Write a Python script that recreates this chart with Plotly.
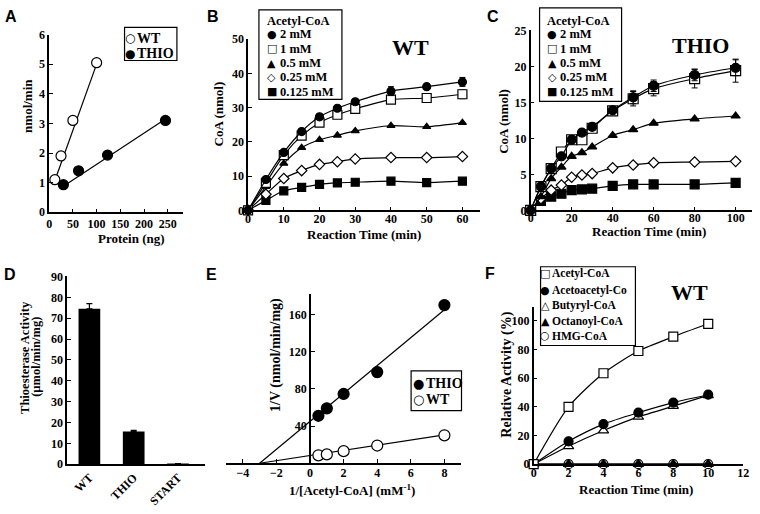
import plotly.graph_objects as go

W, H = 760, 514
SERIF = "Liberation Serif"
SANS = "Liberation Sans"
GLYPH = "DejaVu Sans"

# ---------------- Panel A ----------------
a_protein_wt = [12, 25, 50, 100]
a_rate_wt = [1.1, 1.9, 3.1, 5.05]
a_protein_thio = [30, 62, 123, 245]
a_rate_thio = [0.93, 1.4, 1.93, 3.1]
a_fit_wt_x = [10, 100]
a_fit_wt_y = [0.98, 5.0]
a_fit_thio_x = [30, 245]
a_fit_thio_y = [0.88, 3.15]

# ---------------- Panel B (WT) ----------------
b_time = [0, 5, 10, 15, 20, 25, 30, 40, 50, 60]
b_2mM = [0, 9.0, 16.9, 23.0, 27.3, 29.8, 31.7, 34.8, 36.1, 37.5]
b_2mM_err = [0, 0, 0, 0, 0, 0, 0, 1.3, 0.8, 1.3]
b_1mM = [0, 8.0, 16.1, 21.8, 25.6, 27.9, 29.6, 32.3, 32.8, 33.9]
b_1mM_err = [0, 0, 0, 0, 0, 0, 0, 0, 0, 1.3]
b_05mM = [0, 6.9, 13.7, 18.3, 20.6, 21.9, 23.2, 24.7, 24.4, 25.6]
b_025mM = [0, 4.7, 9.3, 11.6, 13.4, 14.2, 15.0, 15.4, 15.4, 15.7]
b_0125mM = [0, 2.9, 5.7, 6.7, 7.6, 8.0, 8.2, 8.5, 8.1, 8.5]

# ---------------- Panel C (THIO) ----------------
c_time = [0, 5, 10, 15, 20, 25, 30, 40, 50, 60, 80, 100]
c_2mM = [0, 3.3, 5.8, 7.5, 9.8, 10.8, 11.6, 13.9, 15.7, 17.3, 18.8, 19.8]
c_2mM_err = [0, 0, 0, 0, 0.6, 0.4, 0.4, 0.5, 0.9, 0.8, 0.8, 1.1]
c_1mM = [0, 3.3, 5.8, 8.1, 9.8, 9.8, 11.4, 13.8, 15.5, 16.9, 18.3, 19.4]
c_1mM_err = [0, 0, 0, 0, 0, 0, 0, 0.5, 1.0, 1.0, 1.3, 1.6]
c_05mM = [0, 1.9, 4.4, 6.0, 7.5, 8.0, 8.8, 10.4, 11.2, 12.1, 12.7, 13.1]
c_025mM = [0, 1.6, 2.8, 3.5, 4.6, 4.9, 5.1, 5.9, 6.3, 6.6, 6.7, 6.8]
c_025mM_err = [0, 0, 0, 0, 0, 0, 0, 0, 0, 0.3, 0, 0.3]
c_0125mM = [0, 1.3, 1.9, 2.3, 2.8, 2.9, 3.0, 3.4, 3.6, 3.6, 3.6, 3.8]

# ---------------- Panel D ----------------
d_enzyme = ["WT", "THIO", "START"]
d_activity = [74.5, 15.7, 0.3]
d_err = [2.5, 0.5, 0]

# ---------------- Panel E ----------------
e_inv_s = [0.5, 1, 2, 4, 8]
e_inv_v_thio = [51, 59, 74.5, 98, 170]
e_inv_v_thio_err = [0, 0, 0, 5, 3]
e_inv_v_wt = [8.5, 9.5, 13, 19, 30]
e_fit_x = [-3, 8]
e_fit_thio_y = [0, 165]
e_fit_wt_y = [0, 30.5]

# ---------------- Panel F ----------------
f_time = [0, 2, 4, 6, 8, 10]
f_acetyl = [0, 40, 63.5, 79, 89, 98]
f_acetoacetyl = [0, 16, 28, 36, 43, 48.5]
f_butyryl = [0, 12.5, 23.5, 33, 40.5, 48]
f_octanoyl = [0, 0, 0, 0, 0, 0]
f_hmg = [0, 0, 0, 0, 0, 0]


def dx(a, b):
    return [a / W, b / W]


def dy(top, bottom):
    return [1 - bottom / H, 1 - top / H]


def px(x):
    return x / W


def py(y):
    return 1 - y / H


TICKFONT = dict(family=SERIF, size=12, color="black", weight="bold")


def axis(domain, rng, **kw):
    d = dict(domain=domain, range=rng, showline=True, linecolor="black", linewidth=1.5,
             ticks="inside", ticklen=4, tickwidth=1.2, tickcolor="black",
             showgrid=False, zeroline=False, tickfont=TICKFONT, fixedrange=True)
    d.update(kw)
    return d


fig = go.Figure()
LW = 1.2


def sc(x, y, xa, ya, symbol, size, filled=True, mode="lines+markers", err=None,
       shape="spline", lw=LW):
    marker = dict(symbol=symbol, size=size, color="black" if filled else "white",
                  line=dict(color="black", width=1.2))
    line = dict(color="black", width=lw, shape=shape)
    if shape == "spline":
        line["smoothing"] = 0.7
    tr = go.Scatter(x=x, y=y, xaxis=xa, yaxis=ya, mode=mode, marker=marker,
                    line=line, showlegend=False, cliponaxis=False)
    if err is not None:
        tr.error_y = dict(type="data", array=err, color="black", thickness=1, width=3)
    return tr


# Panel A
fig.add_trace(sc(a_fit_wt_x, a_fit_wt_y, "x", "y", "circle", 1, mode="lines", shape="linear"))
fig.add_trace(sc(a_fit_thio_x, a_fit_thio_y, "x", "y", "circle", 1, mode="lines", shape="linear"))
fig.add_trace(sc(a_protein_wt, a_rate_wt, "x", "y", "circle", 10, filled=False, mode="markers"))
fig.add_trace(sc(a_protein_thio, a_rate_thio, "x", "y", "circle", 10, mode="markers"))

# Panel B
fig.add_trace(sc(b_time, b_0125mM, "x2", "y2", "square", 8))
fig.add_trace(sc(b_time, b_025mM, "x2", "y2", "diamond", 8, filled=False))
fig.add_trace(sc(b_time, b_05mM, "x2", "y2", "triangle-up", 7))
fig.add_trace(sc(b_time, b_1mM, "x2", "y2", "square", 9, filled=False, err=b_1mM_err))
fig.add_trace(sc(b_time, b_2mM, "x2", "y2", "circle", 8, err=b_2mM_err))

# Panel C
fig.add_trace(sc(c_time, c_0125mM, "x3", "y3", "square", 9))
fig.add_trace(sc(c_time, c_025mM, "x3", "y3", "diamond", 8, filled=False, err=c_025mM_err))
fig.add_trace(sc(c_time, c_05mM, "x3", "y3", "triangle-up", 8))
fig.add_trace(sc(c_time, c_1mM, "x3", "y3", "square", 10, filled=False, err=c_1mM_err))
fig.add_trace(sc(c_time, c_2mM, "x3", "y3", "circle", 9, err=c_2mM_err))

# Panel D
fig.add_trace(go.Bar(x=d_enzyme, y=d_activity, xaxis="x4", yaxis="y4", width=0.49,
                     marker=dict(color="black", line=dict(width=0)), showlegend=False,
                     error_y=dict(type="data", symmetric=False, array=d_err,
                                  arrayminus=[0, 0, 0], color="black", thickness=1.2, width=3)))

# Panel E
fig.add_trace(sc(e_fit_x, e_fit_thio_y, "x5", "y5", "circle", 1, mode="lines", shape="linear"))
fig.add_trace(sc(e_fit_x, e_fit_wt_y, "x5", "y5", "circle", 1, mode="lines", shape="linear"))
fig.add_trace(sc(e_inv_s, e_inv_v_thio, "x5", "y5", "circle", 11, mode="markers",
                 err=e_inv_v_thio_err))
fig.add_trace(sc(e_inv_s, e_inv_v_wt, "x5", "y5", "circle", 11, filled=False, mode="markers"))

# Panel F
fig.add_trace(sc(f_time, f_hmg, "x6", "y6", "circle", 9, filled=False))
fig.add_trace(sc(f_time, f_octanoyl, "x6", "y6", "triangle-up", 9))
fig.add_trace(sc(f_time, f_butyryl, "x6", "y6", "triangle-up", 9, filled=False))
fig.add_trace(sc(f_time, f_acetoacetyl, "x6", "y6", "circle", 9))
fig.add_trace(sc(f_time, f_acetyl, "x6", "y6", "square", 9, filled=False))

# ---------- axes ----------
e_dom = (225.7, 463.7)
e_rng = [-5, 9]
e_zero_px = e_dom[0] + (0 - e_rng[0]) / (e_rng[1] - e_rng[0]) * (e_dom[1] - e_dom[0])

fig.update_layout(
    xaxis=axis(dx(46.7, 181.7), [0, 281], anchor="y", tickvals=[0, 50, 100, 150, 200, 250]),
    yaxis=axis(dy(28.3, 211), [0, 6], anchor="x", tickvals=[0, 1, 2, 3, 4, 5, 6]),
    xaxis2=axis(dx(248, 483), [0, 65], anchor="y2", tickvals=[0, 10, 20, 30, 40, 50, 60],
                ticklabelstandoff=-3),
    yaxis2=axis(dy(33, 209), [0, 50], anchor="x2", tickvals=[0, 10, 20, 30, 40, 50]),
    xaxis3=axis(dx(534, 758), [0, 108], anchor="y3", tickvals=[0, 20, 40, 60, 80, 100],
                ticklabelstandoff=-4),
    yaxis3=axis(dy(24, 209), [0, 25], anchor="x3", tickvals=[0, 5, 10, 15, 20, 25]),
    xaxis4=axis(dx(65, 204), [-0.5, 2.6], anchor="y4", type="category", tickangle=-45,
                ticks=""),
    yaxis4=axis(dy(277, 470), [0, 90], anchor="x4", tickvals=list(range(0, 91, 10))),
    xaxis5=axis(dx(*e_dom), e_rng, anchor="y5", tickvals=[-4, -2, 0, 2, 4, 6, 8],
                ticklabelstandoff=-2),
    yaxis5=axis(dy(295, 469), [0, 182], anchor="free", position=px(e_zero_px),
                tickvals=[40, 80, 120, 160]),
    xaxis6=axis(dx(537, 749), [0, 12], anchor="y6", tickvals=[0, 2, 4, 6, 8, 10, 12],
                ticklabelstandoff=-3),
    yaxis6=axis(dy(308, 470), [0, 110], anchor="x6", tickvals=[0, 20, 40, 60, 80, 100]),
)

ann = []
shapes = []


def text(t, x, y, size=13, angle=0, family=SERIF, weight="bold", xanchor="center"):
    ann.append(dict(text=t, x=px(x), y=py(y), xref="paper", yref="paper", showarrow=False,
                    textangle=angle, xanchor=xanchor, yanchor="middle",
                    font=dict(family=family, size=size, color="black", weight=weight)))


# panel letters
for letter, x, y in [("A", 8, 10), ("B", 213, 10), ("C", 496, 10),
                     ("D", 7, 275), ("E", 211, 275), ("F", 493, 274)]:
    text(letter, x, y, size=16, family=SANS)

# axis titles
text("nmol/min", 25, 102, angle=-90)
text("Protein (ng)", 130, 238)
text("CoA (nmol)", 218, 110, angle=-90)
text("Reaction Time (min)", 365, 234)
text("CoA (nmol)", 507, 117, angle=-90)
text("Reaction Time (min)", 654, 231)
text("Thioesterase Activity", 22, 360, angle=-90, size=12.5)
text("(µmol/min/mg)", 34, 360, angle=-90, size=12.5)
text("1/V (nmol/min/mg)", 277, 358, angle=-90, size=14)
text("1/[Acetyl-CoA] (mM<sup>-1</sup>)", 353, 497)
text("Relative Activity (%)", 510, 378, angle=-90, size=14)
text("Reaction Time (min)", 641, 496)

# panel titles
text("WT", 412, 42, size=22)
text("THIO", 706, 40, size=22)
text("WT", 695, 294, size=22)


def legend(box, entries, gx, tx, size=12.5, gsize=11, title=None):
    x0, y0, x1, y1 = box
    shapes.append(dict(type="rect", xref="paper", yref="paper", x0=px(x0), x1=px(x1),
                       y0=py(y1), y1=py(y0), line=dict(color="black", width=1.2),
                       fillcolor="white", layer="above"))
    if title:
        t, x, y = title
        text(t, x, y, size=size, xanchor="left")
    for glyph, label, y in entries:
        text(glyph, gx, y, size=gsize, family=GLYPH, weight="normal")
        text(label, tx, y, size=size, xanchor="left")


legend((123, 21, 176, 55), [("○", "WT", 32), ("●", "THIO", 48)], 129, 134, size=14, gsize=12)
conc = ["2 mM", "1 mM", "0.5 mM", "0.25 mM", "0.125 mM"]
glyphs_bc = ["●", "□", "▲", "◇", "■"]
ys_b = [28, 43, 58, 72, 87]
legend((259, 3, 343, 95), list(zip(glyphs_bc, conc, ys_b)), 272, 278,
       title=("Acetyl-CoA", 265, 14))
legend((543, 1, 626, 97), list(zip(glyphs_bc, conc, ys_b)), 556, 562,
       title=("Acetyl-CoA", 549, 14))
legend((413, 374, 464, 415), [("●", "THIO", 387), ("○", "WT", 404)], 420, 426, size=14, gsize=13)
legend((544, 267, 640, 348),
       list(zip(["□", "●", "△", "▲", "○"],
                ["Acetyl-CoA", "Acetoacetyl-Co", "Butyryl-CoA", "Octanoyl-CoA", "HMG-CoA"],
                [274, 291, 307, 323, 338])), 549, 554, size=11.5, gsize=11)

fig.update_layout(
    width=W, height=H, margin=dict(l=0, r=0, t=0, b=0),
    paper_bgcolor="white", plot_bgcolor="white",
    annotations=ann, shapes=shapes, showlegend=False,
    font=dict(family=SERIF, color="black"),
)

fig.write_html("out.html", config={"displayModeBar": False},
               post_script="document.body.style.margin='0';")
